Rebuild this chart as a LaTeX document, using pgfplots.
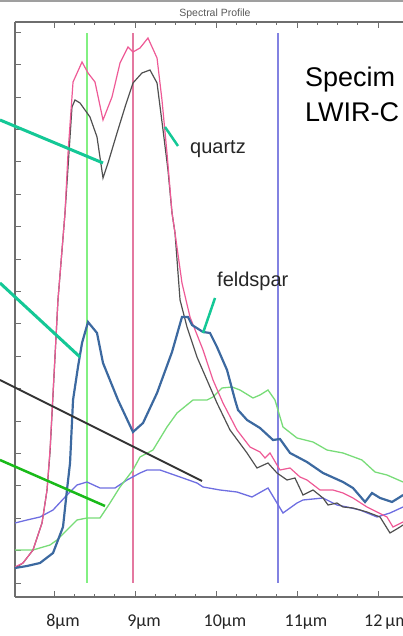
\documentclass[border=0pt]{standalone}
\usepackage{pgfplots}
\pgfplotsset{compat=1.18}
\usepackage{fontspec}
\setmainfont{Liberation Sans}
\newfontfamily\calib{Carlito}
\definecolor{cpink}{RGB}{238,90,150}
\definecolor{cblack}{RGB}{80,80,80}
\definecolor{cblue}{RGB}{60,105,160}
\definecolor{cgreen}{RGB}{120,220,120}
\definecolor{cpurple}{RGB}{110,110,225}
\definecolor{vgreen}{RGB}{130,240,130}
\definecolor{vpink}{RGB}{228,120,160}
\definecolor{vblue}{RGB}{130,130,225}
\definecolor{tealc}{RGB}{20,200,150}
\definecolor{axgray}{RGB}{110,110,110}
\begin{document}
\begin{tikzpicture}[x=1pt,y=1pt]
\useasboundingbox (0,0) rectangle (403,636);
\clip (0,0) rectangle (403,636);
\fill[gray!75] (0,633.5) rectangle (403,636);
\begin{axis}[
  at={(15pt,39pt)}, anchor=south west,
  width=388pt, height=575pt, scale only axis,
  xmin=7.5185, xmax=12.3086, ymin=0, ymax=575,
  axis x line*=box, axis y line*=left,
  axis line style={axgray, line width=1.3pt},
  xtick={8,9,10,11,12},
  xticklabels={8µm,9µm,10µm,11µm,12\,µm},
  minor x tick num=3,
  ytick={14,46.4,...,570},
  yticklabel=\empty,
  major tick length=6pt, minor tick length=3pt,
  every tick/.style={axgray, line width=0.9pt},
  tick align=inside,
  xticklabel style={font=\calib\fontsize{18}{18}\selectfont, text=black!85, xshift=9pt, yshift=-14pt},
  clip=false,
]
% vertical marker lines
\addplot[vgreen, line width=1.5pt] coordinates {(8.407,14) (8.407,564)};
\addplot[vpink, line width=1.3pt] coordinates {(8.975,14) (8.975,564)};
\addplot[vblue, line width=1.5pt] coordinates {(10.765,14) (10.765,564)};
% purple
\addplot[cpurple, line width=1.3pt] coordinates {
(7.519,74) (7.667,77) (7.827,80) (7.988,87) (8.160,102) (8.284,112) (8.407,115)
(8.568,109) (8.753,109) (8.901,117) (9.062,124) (9.148,127) (9.309,127) (9.556,120)
(9.765,114) (9.840,110) (10.049,107) (10.259,105) (10.444,100) (10.642,109) (10.753,94)
(10.827,84) (11.000,94) (11.074,97) (11.321,99) (11.494,92) (11.617,90) (11.778,87)
(11.988,80) (12.148,84) (12.309,90)};
% light green
\addplot[cgreen, line width=1.3pt] coordinates {
(7.519,47) (7.741,47) (7.951,52) (8.037,57) (8.160,67) (8.284,77) (8.407,79)
(8.568,79) (8.691,94) (8.815,110) (8.975,127) (9.062,140) (9.222,147) (9.395,170)
(9.519,184) (9.716,197) (9.889,197) (9.963,200) (10.074,209) (10.198,210) (10.296,207)
(10.457,199) (10.543,202) (10.642,207) (10.728,197) (10.827,170) (11.000,159) (11.198,155)
(11.370,147) (11.568,144) (11.802,137) (11.963,125) (12.111,122) (12.309,115)};
% black (quartz 2)
\addplot[cblack, line width=1.2pt] coordinates {
(7.519,29) (7.617,34) (7.741,47) (7.852,74) (7.914,107) (7.951,145) (8.049,297)
(8.136,384) (8.222,490) (8.259,497) (8.321,494) (8.444,480) (8.531,460) (8.605,419)
(8.667,434) (8.778,464) (8.877,490) (8.975,514) (9.086,524) (9.185,527) (9.272,514)
(9.346,467) (9.407,427) (9.457,384) (9.494,364) (9.556,297) (9.642,270) (9.765,240)
(9.926,210) (10.012,194) (10.173,167) (10.383,144) (10.506,129) (10.642,134) (10.753,124)
(10.877,117) (10.975,119) (11.074,102) (11.198,107) (11.321,99) (11.383,92) (11.494,94)
(11.568,90) (11.691,89) (11.864,85) (12.025,80) (12.148,64) (12.272,70) (12.309,72)};
% pink (quartz 1)
\addplot[cpink, line width=1.2pt] coordinates {
(7.519,30) (7.617,34) (7.741,47) (7.852,74) (7.914,107) (7.951,147) (8.049,297)
(8.136,384) (8.173,444) (8.235,515) (8.346,535) (8.420,524) (8.506,515) (8.605,477)
(8.716,500) (8.815,534) (8.914,550) (8.975,545) (9.062,549) (9.160,559) (9.272,539)
(9.333,497) (9.395,444) (9.457,384) (9.494,364) (9.580,314) (9.679,280) (9.840,247)
(9.963,217) (10.086,194) (10.259,167) (10.420,150) (10.543,145) (10.605,139) (10.667,144)
(10.753,132) (10.790,127) (10.914,129) (11.037,120) (11.123,117) (11.284,107) (11.444,107)
(11.568,104) (11.691,99) (11.864,90) (11.988,85) (12.111,80) (12.185,70) (12.309,75)};
% blue (feldspar)
\addplot[cblue, line width=2.2pt] coordinates {
(7.519,29) (7.667,31) (7.827,34) (7.988,44) (8.111,70) (8.160,107) (8.198,134)
(8.235,197) (8.296,230) (8.346,254) (8.420,275) (8.531,264) (8.605,234) (8.790,197)
(8.975,165) (9.099,174) (9.272,204) (9.457,245) (9.580,280) (9.654,280) (9.704,272)
(9.840,265) (9.926,264) (10.012,250) (10.136,227) (10.235,197) (10.272,187) (10.383,177)
(10.543,169) (10.704,157) (10.790,158) (10.914,144) (11.123,135) (11.321,124) (11.568,115)
(11.691,109) (11.840,95) (11.926,104) (12.025,99) (12.173,95) (12.272,100) (12.309,102)};
\end{axis}
% annotation leader lines
\draw[tealc, line width=3pt] (0,516) -- (103,473);
\draw[tealc, line width=3pt] (0,353) -- (80,279);
\draw[tealc, line width=2.5pt] (165,509) -- (178,490);
\draw[tealc, line width=2.5pt] (215,338) -- (203,303);
\draw[black!80, line width=2pt] (0,256) -- (202,155);
\draw[green!70!black!90, line width=2.5pt] (0,176) -- (105,130);
% texts
\node[anchor=base west, inner sep=0pt, font=\fontsize{20}{20}\selectfont, text=black!85] at (190,482) {quartz};
\node[anchor=base west, inner sep=0pt, font=\fontsize{20}{20}\selectfont, text=black!85] at (217,349) {feldspar};
\node[anchor=base west, inner sep=0pt, font=\fontsize{27}{27}\selectfont] at (305,549) {Specim};
\node[anchor=base west, inner sep=0pt, font=\fontsize{27}{27}\selectfont] at (305,514) {LWIR-C};
\node[font=\fontsize{10.5}{10.5}\selectfont, text=black!65] at (215,622) {Spectral Profile};
\end{tikzpicture}
\end{document}
